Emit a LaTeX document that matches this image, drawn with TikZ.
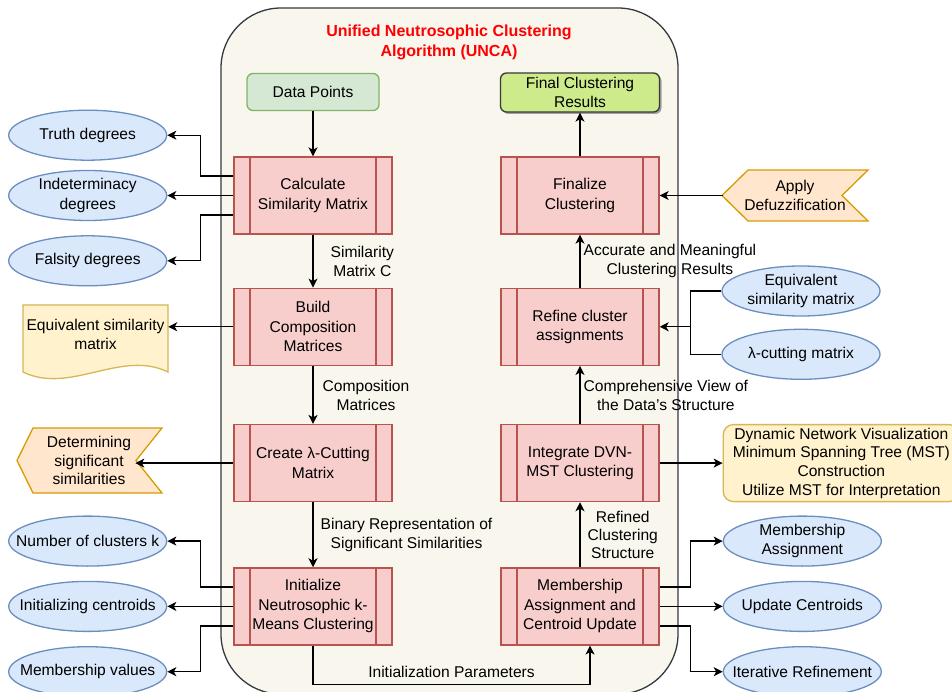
\documentclass[tikz,border=0pt]{standalone}
\usepackage{fontspec}
\setmainfont{Liberation Sans}
\usetikzlibrary{arrows.meta,positioning,shapes.geometric,shadows}
\definecolor{procred}{HTML}{B85450}
\definecolor{procfill}{HTML}{F8CECC}
\definecolor{datagreen}{HTML}{82B366}
\definecolor{datafill}{HTML}{D5E8D4}
\definecolor{resultgray}{HTML}{36393D}
\definecolor{resultfill}{HTML}{CDEB8B}
\definecolor{ellblue}{HTML}{6C8EBF}
\definecolor{ellfill}{HTML}{DAE8FC}
\definecolor{noteamber}{HTML}{D6B656}
\definecolor{notefill}{HTML}{FFF2CC}
\definecolor{steporange}{HTML}{D79B00}
\definecolor{stepfill}{HTML}{FFE6CC}
\definecolor{panelfill}{HTML}{F9F7ED}
\definecolor{titlered}{HTML}{FF0000}
\newcommand{\bodyfont}{\fontsize{15.6}{19.5}\selectfont}
\tikzset{
  box/.style={draw,line width=1.3pt,align=center,inner sep=2pt,font=\bodyfont},
  procbox/.style={box,draw=procred,fill=procfill,minimum width=158pt,minimum height=77pt,
    path picture={\draw[procred,line width=1.3pt]
      ([xshift=16pt]path picture bounding box.north west) -- ([xshift=16pt]path picture bounding box.south west)
      ([xshift=-16pt]path picture bounding box.north east) -- ([xshift=-16pt]path picture bounding box.south east);}},
  databox/.style={box,draw=datagreen,fill=datafill,rounded corners=6pt,minimum width=132pt,minimum height=37pt},
  resultbox/.style={box,draw=resultgray,fill=resultfill,rounded corners=6pt,minimum width=159pt,minimum height=39pt,
    drop shadow={shadow xshift=2pt,shadow yshift=-2pt,opacity=0.35,fill=black}},
  ellip/.style={box,ellipse,draw=ellblue,fill=ellfill,minimum width=158pt,minimum height=50pt,inner xsep=-35pt,inner ysep=-6pt},
  notebox/.style={box,draw=noteamber,fill=notefill,rounded corners=10pt,minimum width=236pt,minimum height=77pt,inner sep=0pt,
    font=\fontsize{15.6}{18.7}\selectfont},
  plain/.style={align=center,inner sep=0pt,font=\bodyfont},
  docshape/.style={draw=noteamber,fill=notefill,line width=1.3pt},
  stepshape/.style={draw=steporange,fill=stepfill,line width=1.3pt},
  edgelabel/.style={align=center,inner sep=1pt,font=\fontsize{15.6}{19}\selectfont},
  link/.style={line width=1.3pt,draw=black},
  flow/.style={link,-{Stealth[length=9pt,width=9pt,inset=2.5pt]}}
}
\begin{document}
\begin{tikzpicture}[x=1pt,y=-1pt]
  \useasboundingbox (0,0) rectangle (952,692);
  \draw[draw=resultgray,fill=panelfill,line width=1.3pt,rounded corners=60pt] (221,8) rectangle (678,694);
  \node[plain,text=titlered,font=\fontsize{16}{20}\selectfont\bfseries] (title) at (449,42) {Unified Neutrosophic Clustering\\Algorithm (UNCA)};

  \node[databox] (datapts) at (313,92) {Data Points};
  \node[procbox] (calcsim) at (313,195.5) {Calculate\\Similarity Matrix};
  \node[procbox,below=53pt of calcsim] (buildcomp) {Build\\Composition\\Matrices};
  \node[procbox,below=58pt of buildcomp] (lambdacut) {Create λ-Cutting\\Matrix};
  \node[procbox,below=65pt of lambdacut] (initkm) {Initialize\\Neutrosophic k-\\Means Clustering};

  \node[resultbox] (results) at (580,92.5) {Final Clustering\\Results};
  \node[procbox] (finalize) at (580,195.5) {Finalize\\Clustering};
  \node[procbox,below=53pt of finalize] (refine) {Refine cluster\\assignments};
  \node[procbox,below=58pt of refine] (integrate) {Integrate DVN-\\MST Clustering};
  \node[procbox,below=65pt of integrate] (memupd) {Membership\\Assignment and\\Centroid Update};

  \node[ellip,left=66pt of calcsim] (indet) {Indeterminacy\\degrees};
  \node[ellip,above=9pt of indet] (truth) {Truth degrees};
  \node[ellip,below=14pt of indet] (falsity) {Falsity degrees};

  \filldraw[docshape] (23,305) -- (168,305) -- (168,372) .. controls (121,349) and (70,395) .. (23,372) -- cycle;
  \node[plain,minimum width=145pt] (eqdoc) at (95.5,334.5) {Equivalent similarity\\matrix};

  \filldraw[stepshape] (17,460.5) -- (33,428) -- (162,428) -- (136,460.5) -- (162,493) -- (33,493) -- cycle;
  \node[plain,font=\fontsize{15.6}{18.5}\selectfont] (detsig) at (89,460.5) {Determining\\significant\\similarities};
  \coordinate (detnotch) at ([xshift=-98pt]lambdacut.west);

  \node[ellip,left=66pt of initkm] (initcent) {Initializing centroids};
  \node[ellip,above=14pt of initcent] (numclust) {Number of clusters k};
  \node[ellip,below=14pt of initcent] (membval) {Membership values};

  \filldraw[stepshape] (722,195.5) -- (748,170) -- (868,170) -- (842,195.5) -- (868,221) -- (748,221) -- cycle;
  \node[plain] (defuzz) at (795,195.5) {Apply\\Defuzzification};
  \coordinate (defuzztip) at ([xshift=63pt]finalize.east);

  \node[ellip] (eqsim) at (801,291) {Equivalent\\similarity matrix};
  \node[ellip,below=12pt of eqsim] (lamcut) {λ-cutting matrix};
  \coordinate (refjoin) at ([xshift=31pt]refine.east);

  \node[notebox,right=63pt of integrate] (dvnbox) {Dynamic Network Visualization\\Minimum Spanning Tree (MST)\\Construction\\Utilize MST for Interpretation};

  \node[ellip,right=63pt of memupd] (updcent) {Update Centroids};
  \node[ellip,above=14pt of updcent] (memassign) {Membership\\Assignment};
  \node[ellip,below=14pt of updcent] (iterref) {Iterative Refinement};

  \draw[flow] (datapts) -- (calcsim);
  \draw[flow] (calcsim) -- node[edgelabel,right=16pt] {Similarity\\Matrix C} (buildcomp);
  \draw[flow] (buildcomp) -- node[edgelabel,right=8pt] {Composition\\Matrices} (lambdacut);
  \draw[flow] (lambdacut) -- node[edgelabel,right=6pt] {Binary Representation of\\Significant Similarities} (initkm);
  \draw[flow] (initkm.south) -- ++(0,-39pt) -| node[edgelabel,pos=0.25,above=5pt] {Initialization Parameters} ([xshift=10pt]memupd.south);
  \draw[flow] (memupd) -- node[edgelabel,right=6pt,font=\fontsize{15.6}{18}\selectfont] {Refined\\Clustering\\Structure} (integrate);
  \draw[flow] (integrate) -- node[edgelabel,right=2pt] {Comprehensive View of\\the Data’s Structure} (refine);
  \draw[flow] (refine) -- node[edgelabel,right=2pt] {Accurate and Meaningful\\Clustering Results} (finalize);
  \draw[flow] (finalize) -- (results);

  \draw[flow] ([yshift=19.5pt]calcsim.west) -- ++(-33pt,0) |- (truth.east);
  \draw[flow] (calcsim.west) -- (indet.east);
  \draw[flow] ([yshift=-19.5pt]calcsim.west) -- ++(-33pt,0) |- (falsity.east);
  \draw[flow] (buildcomp.west) -- (buildcomp.west -| eqdoc.east);
  \draw[flow] (lambdacut.west) -- (detnotch);
  \draw[flow] ([yshift=19.5pt]initkm.west) -- ++(-33pt,0) |- (numclust.east);
  \draw[flow] (initkm.west) -- (initcent.east);
  \draw[flow] ([yshift=-19.5pt]initkm.west) -- ++(-33pt,0) |- (membval.east);

  \draw[flow] (defuzztip) -- (finalize.east);
  \draw[link] (eqsim.west) -| (refjoin);
  \draw[link] (lamcut.west) -| (refjoin);
  \draw[flow] (refjoin) -- (refine.east);
  \draw[flow] (integrate) -- (dvnbox);
  \draw[flow] ([yshift=19.5pt]memupd.east) -- ++(31pt,0) |- (memassign.west);
  \draw[flow] (memupd.east) -- (updcent.west);
  \draw[flow] ([yshift=-19.5pt]memupd.east) -- ++(31pt,0) |- (iterref.west);
\end{tikzpicture}
\end{document}
